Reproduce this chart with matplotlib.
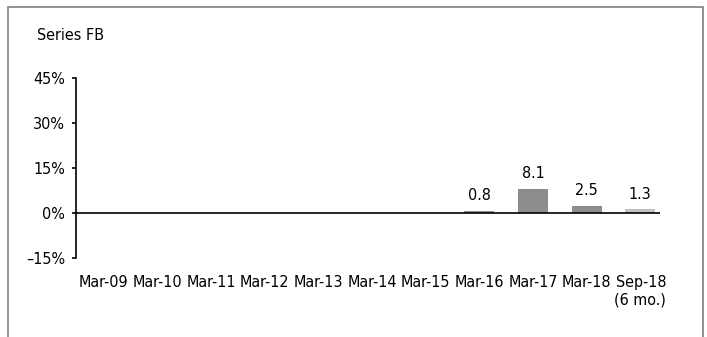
import matplotlib.pyplot as plt
from matplotlib.patches import Rectangle

plt.rcParams['font.family'] = ['DejaVu Sans']
plt.rcParams['font.stretch'] = 'condensed'

#Categories and values (percent)
periods = ['Mar-09', 'Mar-10', 'Mar-11', 'Mar-12', 'Mar-13', 'Mar-14',
           'Mar-15', 'Mar-16', 'Mar-17', 'Mar-18', 'Sep-18\n(6 mo.)']
values = [None, None, None, None, None, None, None, 0.8, 8.1, 2.5, 1.3]
labels = ['', '', '', '', '', '', '', '0.8', '8.1', '2.5', '1.3']
bar_colors = ['#8b8c8e'] * 10 + ['#c2c2c2']
y_ticks = [-15, 0, 15, 30, 45]

fig = plt.figure(figsize=(7.07, 3.37), dpi=100)
ax = fig.add_axes([0.1075, 0.2344, 0.826, 0.534])

#Outer frame (open at the bottom)
fig.patches.append(Rectangle((0.011, -0.05), 0.983, 1.03, transform=fig.transFigure,
                             fill=False, edgecolor='#808080', linewidth=1.2))

xs = [i for i, v in enumerate(values) if v is not None]
hs = [values[i] for i in xs]
cs = [bar_colors[i] for i in xs]
ax.bar(xs, hs, width=0.56, color=cs, zorder=2)

for i in xs:
    ax.text(i, values[i] + 2.5, labels[i], ha='center', va='bottom', fontsize=11.5)

ax.axhline(0, color='black', linewidth=1.2, zorder=3)

ax.set_xlim(-0.52, 10.37)
ax.set_ylim(-15, 45)
ax.set_yticks(y_ticks)
ax.set_yticklabels(['\u201315%', '0%', '15%', '30%', '45%'])
ax.set_xticks(range(len(periods)))
ax.set_xticklabels(periods, fontsize=11.5, va='top', ha='center', multialignment='right',
                   linespacing=1.25)

for s in ['top', 'right', 'bottom']:
    ax.spines[s].set_visible(False)
ax.spines['left'].set_linewidth(1.2)
ax.tick_params(axis='y', length=3, width=1.2, labelsize=11.5, pad=5)
ax.tick_params(axis='x', length=0, pad=12)

fig.text(0.052, 0.895, 'Series FB', fontsize=11.5, va='center', ha='left')

plt.savefig('out.png', dpi=100)
